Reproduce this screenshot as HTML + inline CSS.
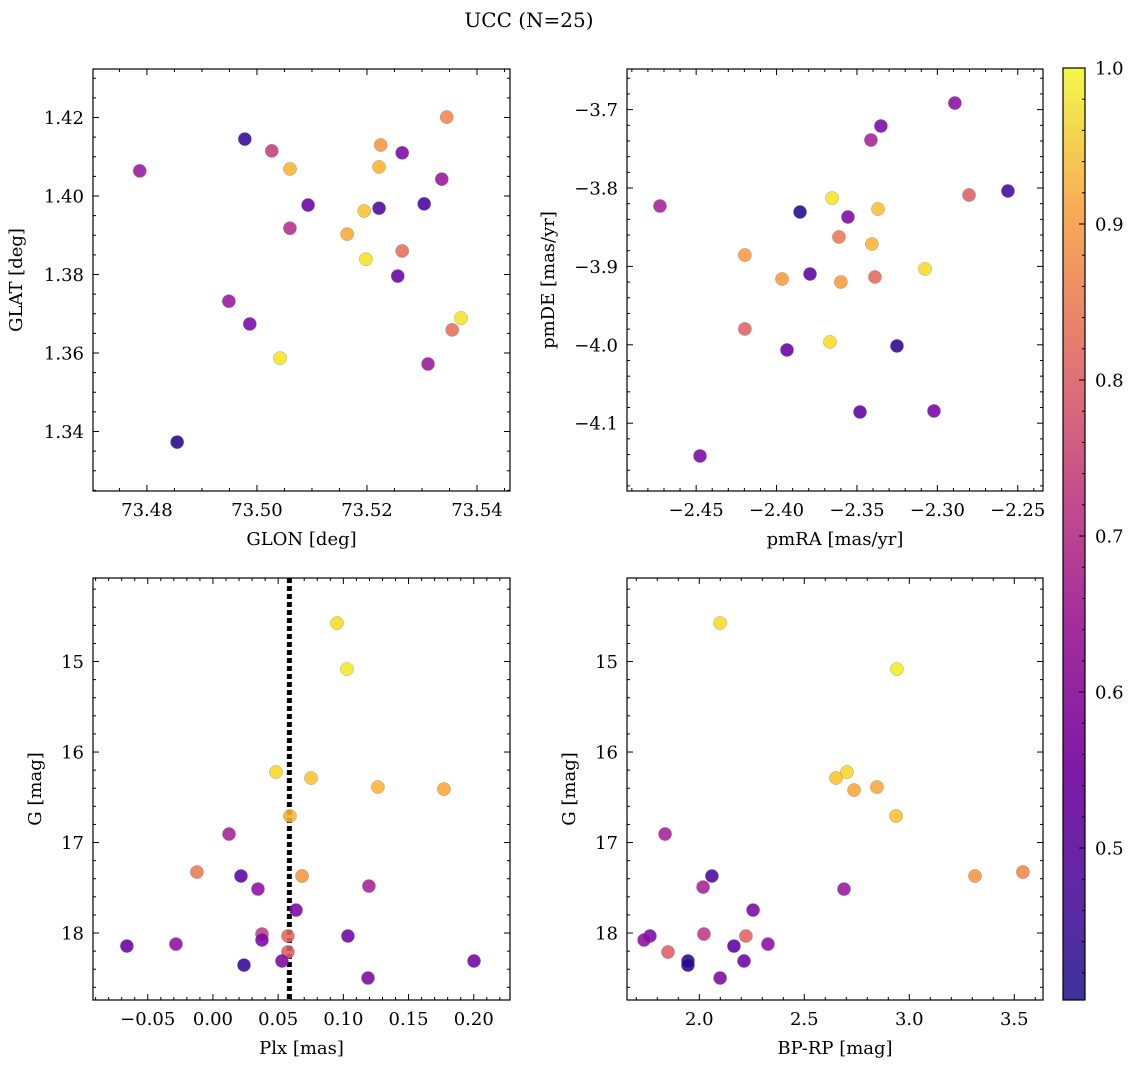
<!DOCTYPE html>
<html><head><meta charset="utf-8">
<style>
html,body{margin:0;padding:0;background:#fff;}
svg{display:block;font-family:"DejaVu Serif","Liberation Serif",serif;}
</style></head>
<body>
<svg id="fig" width="1136" height="1068" viewBox="0 0 1136 1068" xmlns="http://www.w3.org/2000/svg">
<defs>
<linearGradient id="plasma" x1="0" y1="1" x2="0" y2="0">
<stop offset="0" stop-color="#3b3399"/>
<stop offset="0.1" stop-color="#5b2aa3"/>
<stop offset="0.25" stop-color="#7f1aa6"/>
<stop offset="0.4" stop-color="#a22d9d"/>
<stop offset="0.55" stop-color="#c6508a"/>
<stop offset="0.7" stop-color="#e57b70"/>
<stop offset="0.85" stop-color="#f9ac56"/>
<stop offset="1" stop-color="#f1f94a"/>
</linearGradient>
</defs>
<text x="529" y="27" font-size="20" text-anchor="middle">UCC (N=25)</text>
</svg>
<script>
// ---- data ----
const glon = [73.4787,73.4978,73.5027,73.5225,73.5345,73.5060,73.5222,73.5264,73.5336,73.5093,73.5060,73.5195,73.5164,73.5222,73.5304,73.5198,73.5264,73.5256,73.4949,73.4987,73.5042,73.5371,73.5355,73.5311,73.4855];
const glat = [1.4064,1.4145,1.4115,1.4130,1.4201,1.4069,1.4074,1.4110,1.4043,1.3977,1.3918,1.3962,1.3903,1.3969,1.3980,1.3839,1.3860,1.3796,1.3732,1.3674,1.3587,1.3689,1.3659,1.3572,1.3373];
const probA = [0.60,0.45,0.68,0.85,0.82,0.90,0.90,0.55,0.60,0.52,0.65,0.92,0.88,0.48,0.47,0.97,0.78,0.52,0.60,0.55,0.97,0.97,0.78,0.60,0.43];

const pmra = [-2.2891,-2.3351,-2.3413,-2.4725,-2.2561,-2.2803,-2.3854,-2.3655,-2.3556,-2.3369,-2.3612,-2.3407,-2.4197,-2.3077,-2.3966,-2.3792,-2.3600,-2.3388,-2.4197,-2.3935,-2.3668,-2.3251,-2.3481,-2.3021,-2.4476];
const pmde = [-3.6916,-3.7209,-3.7388,-3.8230,-3.8038,-3.8089,-3.8306,-3.8128,-3.8370,-3.8268,-3.8625,-3.8714,-3.8855,-3.9033,-3.9161,-3.9097,-3.9199,-3.9135,-3.9798,-4.0066,-3.9964,-4.0015,-4.0857,-4.0844,-4.1418];
const probB = [0.58,0.55,0.62,0.62,0.47,0.75,0.43,0.97,0.55,0.92,0.80,0.90,0.86,0.96,0.86,0.50,0.86,0.77,0.76,0.52,0.96,0.44,0.50,0.54,0.55];

const plx = [0.0951,0.1028,0.0483,0.0752,0.1265,0.1771,0.0590,0.0123,-0.0123,0.0215,0.0683,0.0345,0.1196,0.0637,0.0376,0.0376,0.0575,0.1035,-0.0660,-0.0284,0.0575,0.0238,0.0529,0.2002,0.1189];
const gmagC = [14.575,15.083,16.221,16.287,16.387,16.409,16.707,16.906,17.326,17.370,17.370,17.514,17.481,17.746,18.011,18.077,18.033,18.033,18.144,18.122,18.210,18.354,18.309,18.309,18.497];
const probC = [0.96,0.98,0.95,0.92,0.90,0.88,0.90,0.62,0.80,0.50,0.85,0.58,0.62,0.55,0.68,0.55,0.77,0.53,0.52,0.58,0.75,0.45,0.55,0.53,0.55];

const bprp = [2.099,2.941,2.703,2.651,2.846,2.737,2.937,1.837,3.541,3.313,2.060,2.018,2.689,2.256,2.022,2.222,1.765,1.737,2.165,2.327,1.851,1.946,1.946,2.213,2.099];
const gmagD = [14.575,15.083,16.221,16.287,16.387,16.420,16.707,16.906,17.326,17.370,17.370,17.492,17.514,17.746,18.011,18.033,18.033,18.077,18.144,18.122,18.210,18.309,18.354,18.309,18.497];
const probD = [0.96,0.98,0.95,0.92,0.88,0.88,0.92,0.62,0.82,0.85,0.48,0.62,0.60,0.55,0.67,0.76,0.55,0.58,0.50,0.58,0.75,0.43,0.43,0.53,0.55];

const plxMedian = 0.0586;
const cbTicks = [0.5,0.6,0.7,0.8,0.9,1.0];
const cbMin = 0.4026, cbMax = 1.0;

// ---- helpers ----
const NS = "http://www.w3.org/2000/svg";
const svg = document.getElementById('fig');
const FS = 18;
function mk(tag, attrs, parent){
  const e = document.createElementNS(NS, tag);
  for (const k in attrs) e.setAttribute(k, attrs[k]);
  (parent||svg).appendChild(e);
  return e;
}
const stops = [[0,[13,8,135]],[0.1,[65,4,157]],[0.2,[106,0,168]],[0.3,[143,13,164]],[0.4,[177,42,144]],[0.5,[204,71,120]],[0.6,[225,100,98]],[0.7,[242,132,75]],[0.8,[252,166,54]],[0.9,[252,206,37]],[1.0,[240,249,33]]];
function plasma(p){
  let t = (p-cbMin)/(cbMax-cbMin); t=Math.max(0,Math.min(1,t));
  for (let i=0;i<stops.length-1;i++){
    const a=stops[i], b=stops[i+1];
    if (t<=b[0]){ const f=(t-a[0])/(b[0]-a[0]);
      const c=a[1].map((v,j)=>Math.round(v+(b[1][j]-v)*f));
      return `rgb(${c[0]},${c[1]},${c[2]})`; }
  }
  return 'rgb(240,249,33)';
}
function fmt(v,d){ const s=Math.abs(v).toFixed(d); return (v<-1e-9?'\u2212':'')+s; }

function panel(cfg){
  const g = mk('g',{});
  
  
  const L=cfg.box[0], T=cfg.box[1], R=cfg.box[2], B=cfg.box[3];
  const sx = v => L + (v-cfg.xr[0])/(cfg.xr[1]-cfg.xr[0])*(R-L);
  const sy = cfg.yinv ? (v => T + (v-cfg.yr[0])/(cfg.yr[1]-cfg.yr[0])*(B-T))
                      : (v => B - (v-cfg.yr[0])/(cfg.yr[1]-cfg.yr[0])*(B-T));
  const tg = mk('g',{stroke:'#000','stroke-width':1},g);
  
  
  const xlo=Math.min(...cfg.xr), xhi=Math.max(...cfg.xr), ylo=Math.min(...cfg.yr), yhi=Math.max(...cfg.yr);
  for (let v=Math.ceil(xlo/cfg.xmin-1e-6)*cfg.xmin; v<=xhi+1e-9; v+=cfg.xmin){
    const x=sx(v); const maj=Math.abs(v/cfg.xmaj-Math.round(v/cfg.xmaj))<1e-4; const l=maj?6:3;
    mk('line',{x1:x,x2:x,y1:B,y2:B-l},tg); mk('line',{x1:x,x2:x,y1:T,y2:T+l},tg);
  }
  for (let v=Math.ceil(ylo/cfg.ymin-1e-6)*cfg.ymin; v<=yhi+1e-9; v+=cfg.ymin){
    const y=sy(v); const maj=Math.abs(v/cfg.ymaj-Math.round(v/cfg.ymaj))<1e-4; const l=maj?6:3;
    mk('line',{x1:L,x2:L+l,y1:y,y2:y},tg); mk('line',{x1:R,x2:R-l,y1:y,y2:y},tg);
  }
  cfg.xticks.forEach(v=>{
    const t=mk('text',{x:sx(v),y:B+25,'font-size':FS,'text-anchor':'middle'},g);
    t.textContent=fmt(v,cfg.xd);
    
    
  });
  cfg.yticks.forEach(v=>{
    const t=mk('text',{x:L-9,y:sy(v)+6.5,'font-size':FS,'text-anchor':'end'},g);
    t.textContent=fmt(v,cfg.yd);
    
    
  });
  const xl=mk('text',{x:(L+R)/2,y:B+54,'font-size':FS,'text-anchor':'middle'},g);
  xl.textContent=cfg.xlabel;
  
  
  const yx=cfg.ylx;
  const yl=mk('text',{x:yx,y:(T+B)/2,'font-size':FS,'text-anchor':'middle',transform:`rotate(-90 ${yx} ${(T+B)/2})`},g);
  yl.textContent=cfg.ylabel;
  
  
  if (cfg.vline!==undefined){
    const vl=mk('line',{x1:sx(cfg.vline),x2:sx(cfg.vline),y1:T,y2:B,stroke:'#000','stroke-width':5,'stroke-dasharray':'5,3'},g);
    
    
  }
  cfg.xs.forEach((xv,i)=>{
    const c=mk('circle',{cx:sx(xv),cy:sy(cfg.ys[i]),r:6.6,fill:plasma(cfg.ps[i]),'fill-opacity':0.88,stroke:'#777','stroke-width':0.5,'stroke-opacity':0.6},g);
    
    
  });
  const fr=mk('rect',{x:L,y:T,width:R-L,height:B-T,fill:'none',stroke:'#000','stroke-width':1.2},g);
  
  
}

panel({name:'glon-glat-panel',box:[93,69,510,491],xr:[73.4702,73.546],yr:[1.32484,1.43236],
  xmaj:0.02,xmin:0.005,ymaj:0.02,ymin:0.005,xticks:[73.48,73.50,73.52,73.54],yticks:[1.34,1.36,1.38,1.40,1.42],xd:2,yd:2,
  xlabel:'GLON [deg]',ylabel:'GLAT [deg]',ylx:22,xs:glon,ys:glat,ps:probA});
panel({name:'proper-motion-panel',box:[627,69,1043,491],xr:[-2.4930,-2.2343],yr:[-4.1865,-3.6482],
  xmaj:0.05,xmin:0.01,ymaj:0.1,ymin:0.02,xticks:[-2.45,-2.40,-2.35,-2.30,-2.25],yticks:[-4.1,-4.0,-3.9,-3.8,-3.7],xd:2,yd:1,
  xlabel:'pmRA [mas/yr]',ylabel:'pmDE [mas/yr]',ylx:554,xs:pmra,ys:pmde,ps:probB});
panel({name:'plx-g-panel',box:[93,578,510,1000],xr:[-0.0920,0.2278],yr:[14.077,18.740],yinv:true,
  xmaj:0.05,xmin:0.01,ymaj:1,ymin:0.2,xticks:[-0.05,0,0.05,0.10,0.15,0.20],yticks:[15,16,17,18],xd:2,yd:0,
  xlabel:'Plx [mas]',ylabel:'G [mag]',ylx:41,xs:plx,ys:gmagC,ps:probC,vline:plxMedian});
panel({name:'cmd-panel',box:[627,578,1043,1000],xr:[1.6557,3.6367],yr:[14.077,18.740],yinv:true,
  xmaj:0.5,xmin:0.1,ymaj:1,ymin:0.2,xticks:[2.0,2.5,3.0,3.5],yticks:[15,16,17,18],xd:1,yd:0,
  xlabel:'BP-RP [mag]',ylabel:'G [mag]',ylx:575,xs:bprp,ys:gmagD,ps:probD});

// colorbar
const cb = mk('g',{});


const cbT=68, cbB=1000, cbL=1063, cbR=1085;
const cy = v => cbB - (v-cbMin)/(cbMax-cbMin)*(cbB-cbT);
const cbr=mk('rect',{x:cbL,y:cbT,width:cbR-cbL,height:cbB-cbT,fill:'url(#plasma)'},cb);


for (let v=Math.ceil(cbMin/0.02)*0.02; v<=cbMax+1e-9; v+=0.02){
  const maj=Math.abs(v*10-Math.round(v*10))<1e-4;
  mk('line',{x1:cbR,x2:cbR-(maj?6:3),y1:cy(v),y2:cy(v),stroke:'#000','stroke-width':1},cb);
}
cbTicks.forEach(v=>{
  const t=mk('text',{x:cbR+10,y:cy(v)+6.5,'font-size':FS},cb);
  t.textContent=v.toFixed(1);
  
  
});
mk('rect',{x:cbL,y:cbT,width:cbR-cbL,height:cbB-cbT,fill:'none',stroke:'#000','stroke-width':1.2},cb);
</script>
</body></html>
